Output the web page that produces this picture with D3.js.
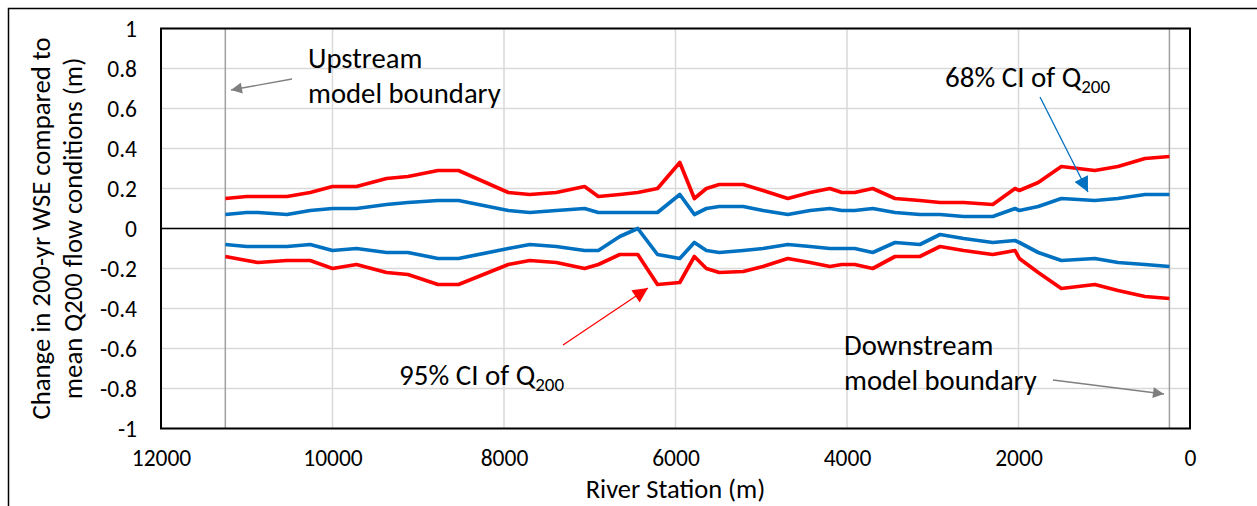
<!DOCTYPE html>
<html>
<head>
<meta charset="utf-8">
<script src="https://cdn.jsdelivr.net/npm/d3@7/dist/d3.min.js"></script>
<style>
  body { margin: 0; background: #fff; }
  text { font-family: Carlito, Lato, sans-serif; fill: #000; }
</style>
</head>
<body>
<div id="chart"></div>
<script>
// river stations (m) where the profile was computed
var stations = [11250, 11000, 10870, 10530, 10260, 10000, 9720, 9370, 9120, 8770, 8530,
  7950, 7700, 7390, 7060, 6900, 6650, 6440, 6210, 5950, 5780, 5640, 5490, 5210, 4980,
  4690, 4430, 4200, 4060, 3910, 3700, 3440, 3150, 2915, 2640, 2300, 2040, 1990, 1770,
  1500, 1110, 840, 525, 240];

// change in WSE (m), upper / lower bounds
var upper95 = [0.15, 0.16, 0.16, 0.16, 0.18, 0.21, 0.21, 0.25, 0.26, 0.29, 0.29,
  0.18, 0.17, 0.18, 0.21, 0.16, 0.17, 0.18, 0.20, 0.33, 0.15, 0.20, 0.22, 0.22, 0.19,
  0.15, 0.18, 0.20, 0.18, 0.18, 0.20, 0.15, 0.14, 0.13, 0.13, 0.12, 0.20, 0.19, 0.23,
  0.31, 0.29, 0.31, 0.35, 0.36];
var upper68 = [0.07, 0.08, 0.08, 0.07, 0.09, 0.10, 0.10, 0.12, 0.13, 0.14, 0.14,
  0.09, 0.08, 0.09, 0.10, 0.08, 0.08, 0.08, 0.08, 0.17, 0.07, 0.10, 0.11, 0.11, 0.09,
  0.07, 0.09, 0.10, 0.09, 0.09, 0.10, 0.08, 0.07, 0.07, 0.06, 0.06, 0.10, 0.09, 0.11,
  0.15, 0.14, 0.15, 0.17, 0.17];
var lower68 = [-0.08, -0.09, -0.09, -0.09, -0.08, -0.11, -0.10, -0.12, -0.12, -0.15, -0.15,
  -0.10, -0.08, -0.09, -0.11, -0.11, -0.04, 0.00, -0.13, -0.15, -0.07, -0.11, -0.12, -0.11, -0.10,
  -0.08, -0.09, -0.10, -0.10, -0.10, -0.12, -0.07, -0.08, -0.03, -0.05, -0.07, -0.06, -0.07, -0.12,
  -0.16, -0.15, -0.17, -0.18, -0.19];
var lower95 = [-0.14, -0.16, -0.17, -0.16, -0.16, -0.20, -0.18, -0.22, -0.23, -0.28, -0.28,
  -0.18, -0.16, -0.17, -0.20, -0.18, -0.13, -0.13, -0.28, -0.27, -0.14, -0.20, -0.22, -0.215, -0.19,
  -0.15, -0.17, -0.19, -0.18, -0.18, -0.20, -0.14, -0.14, -0.09, -0.11, -0.13, -0.11, -0.15, -0.22,
  -0.30, -0.28, -0.31, -0.34, -0.35];

var xTicks = [12000, 10000, 8000, 6000, 4000, 2000, 0];
var yTicks = [-1, -0.8, -0.6, -0.4, -0.2, 0, 0.2, 0.4, 0.6, 0.8, 1];
var boundaries = [11250, 240]; // upstream / downstream model boundary

var width = 1257, height = 506;
var blue = '#0070c0', red = '#ff0000', grey = '#7f7f7f';

var svg = d3.select('#chart').append('svg')
    .attr('width', width)
    .attr('height', height);

// outer chart frame (runs off the picture right and bottom)
svg.append('rect')
    .attr('x', 8.5).attr('y', 8.5)
    .attr('width', 1300).attr('height', 600)
    .attr('fill', 'none').attr('stroke', '#000').attr('stroke-width', 1.5);

var x = d3.scaleLinear().domain([12000, 0]).range([161, 1190]);
var y = d3.scaleLinear().domain([-1, 1]).range([428.5, 28.5]);

// grid
svg.append('g').selectAll('line')
    .data(yTicks).enter().append('line')
    .attr('x1', x(12000)).attr('x2', x(0))
    .attr('y1', function(d) { return y(d); })
    .attr('y2', function(d) { return y(d); })
    .attr('stroke', '#d9d9d9').attr('stroke-width', 1.5);
svg.append('g').selectAll('line')
    .data(xTicks).enter().append('line')
    .attr('x1', function(d) { return x(d); })
    .attr('x2', function(d) { return x(d); })
    .attr('y1', y(1)).attr('y2', y(-1))
    .attr('stroke', '#d9d9d9').attr('stroke-width', 1.5);

// model boundaries
svg.append('g').selectAll('line')
    .data(boundaries).enter().append('line')
    .attr('x1', function(d) { return x(d); })
    .attr('x2', function(d) { return x(d); })
    .attr('y1', y(1)).attr('y2', y(-1))
    .attr('stroke', '#a0a0a0').attr('stroke-width', 1.5);

// zero line
svg.append('line')
    .attr('x1', x(12000)).attr('x2', x(0))
    .attr('y1', y(0)).attr('y2', y(0))
    .attr('stroke', '#000').attr('stroke-width', 1.5);

// plot frame
svg.append('rect')
    .attr('x', x(12000)).attr('y', y(1))
    .attr('width', x(0) - x(12000)).attr('height', y(-1) - y(1))
    .attr('fill', 'none').attr('stroke', '#000').attr('stroke-width', 2);

// axes (labels only)
var fmt = function(d) { return String(+d.toFixed(1)); };
var xAxis = svg.append('g')
    .attr('transform', 'translate(0,' + y(-1) + ')')
    .call(d3.axisBottom(x).tickValues(xTicks).tickSize(0).tickPadding(21).tickFormat(d3.format('d')));
var yAxis = svg.append('g')
    .attr('transform', 'translate(' + x(12000) + ',0)')
    .call(d3.axisLeft(y).tickValues(yTicks).tickSize(0).tickPadding(24).tickFormat(fmt));
[xAxis, yAxis].forEach(function(g) {
    g.select('.domain').remove();
    g.selectAll('text').attr('font-family', 'Carlito, Lato, sans-serif').attr('font-size', 23.5).attr('fill', '#000');
});

// series
var line = function(vals) {
    return d3.line()
        .x(function(d, i) { return x(stations[i]); })
        .y(function(d) { return y(d); })(vals);
};
[[upper68, blue], [lower68, blue], [upper95, red], [lower95, red]].forEach(function(s) {
    svg.append('path')
        .attr('d', line(s[0]))
        .attr('fill', 'none')
        .attr('stroke', s[1])
        .attr('stroke-width', 3.7)
        .attr('stroke-linejoin', 'round');
});

// arrow heads
var defs = svg.append('defs');
function marker(id, color, len, wid) {
    defs.append('marker')
        .attr('id', id)
        .attr('markerUnits', 'userSpaceOnUse')
        .attr('viewBox', '0 0 10 10')
        .attr('refX', 10).attr('refY', 5)
        .attr('markerWidth', len).attr('markerHeight', wid)
        .attr('orient', 'auto')
        .append('path').attr('d', 'M0,0 L10,5 L0,10 Z').attr('fill', color);
}
marker('arrGrey', grey, 14, 11);
marker('arrBlue', blue, 16, 15);
marker('arrRed', red, 16, 15);

function arrow(x1, y1, x2, y2, color, id) {
    svg.append('line')
        .attr('x1', x1).attr('y1', y1).attr('x2', x2).attr('y2', y2)
        .attr('stroke', color).attr('stroke-width', 1.3)
        .attr('marker-end', 'url(#' + id + ')');
}
arrow(292, 79, 231, 90, grey, 'arrGrey');
arrow(1053, 380, 1164, 394, grey, 'arrGrey');
arrow(1040, 97, 1088, 192, blue, 'arrBlue');
arrow(563, 345, 648, 288, red, 'arrRed');

// annotations
function label(tx, ty, lines) {
    lines.forEach(function(t, i) {
        svg.append('text')
            .attr('x', tx).attr('y', ty + i * 35)
            .attr('font-size', 28.7)
            .text(t);
    });
}
label(308, 68, ['Upstream', 'model boundary']);
label(844, 355, ['Downstream', 'model boundary']);

function ciLabel(tx, ty, pre) {
    var t = svg.append('text').attr('x', tx).attr('y', ty).attr('font-size', 29);
    t.append('tspan').text(pre + ' CI of Q');
    t.append('tspan').attr('font-size', 19).attr('dy', 6).text('200');
}
ciLabel(945, 87, '68%');
ciLabel(399, 385, '95%');

// axis titles
svg.append('text')
    .attr('x', x(6000)).attr('y', 498)
    .attr('text-anchor', 'middle')
    .attr('font-size', 26.5)
    .text('River Station (m)');

var yt = svg.append('text')
    .attr('transform', 'translate(50,' + y(0) + ') rotate(-90)')
    .attr('text-anchor', 'middle')
    .attr('font-size', 26.7);
yt.append('tspan').attr('x', 0).attr('y', 0).text('Change in 200-yr WSE compared to');
yt.append('tspan').attr('x', 0).attr('y', 32).text('mean Q200 flow conditions (m)');
</script>
</body>
</html>
